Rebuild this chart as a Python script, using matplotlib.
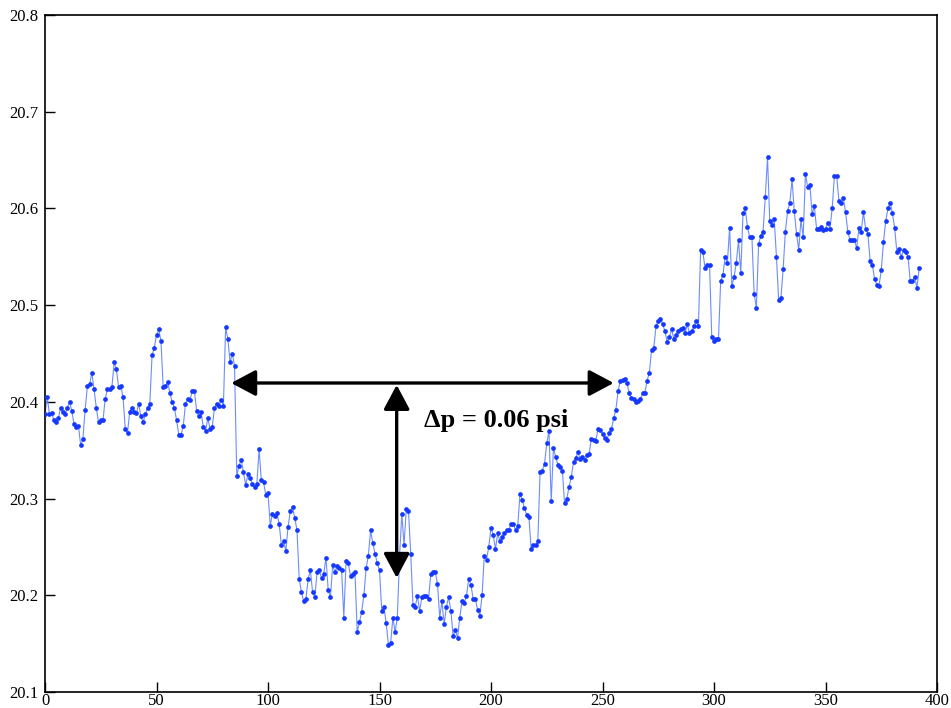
import numpy as np
import matplotlib
matplotlib.use("Agg")
import matplotlib.pyplot as plt

pressure = [
    # 0-38
    20.387, 20.405, 20.387, 20.388, 20.381, 20.379, 20.383, 20.394, 20.390, 20.387,
    20.394, 20.400, 20.391, 20.377, 20.374, 20.375, 20.355, 20.362, 20.392, 20.416,
    20.418, 20.430, 20.413, 20.394, 20.379, 20.381, 20.381, 20.403, 20.413, 20.413,
    20.415, 20.441, 20.434, 20.415, 20.416, 20.405, 20.372, 20.368, 20.390,
    # 39-76
    20.394, 20.389, 20.388, 20.398, 20.385, 20.379, 20.387, 20.394, 20.398, 20.448,
    20.456, 20.469, 20.475, 20.463, 20.415, 20.416, 20.421, 20.409, 20.400, 20.394,
    20.381, 20.366, 20.366, 20.375, 20.398, 20.403, 20.402, 20.411, 20.411, 20.391,
    20.385, 20.389, 20.374, 20.370, 20.383, 20.372, 20.374, 20.394,
    # 77-114
    20.398, 20.396, 20.402, 20.396, 20.477, 20.465, 20.441, 20.450, 20.437, 20.323,
    20.334, 20.340, 20.327, 20.314, 20.325, 20.321, 20.315, 20.312, 20.315, 20.351,
    20.319, 20.317, 20.304, 20.306, 20.272, 20.284, 20.282, 20.285, 20.274, 20.252,
    20.256, 20.246, 20.271, 20.287, 20.291, 20.280, 20.267, 20.217,
    # 115-150
    20.203, 20.194, 20.196, 20.217, 20.226, 20.203, 20.198, 20.224, 20.226, 20.218,
    20.222, 20.239, 20.205, 20.198, 20.231, 20.224, 20.230, 20.228, 20.226, 20.177,
    20.235, 20.233, 20.220, 20.222, 20.224, 20.162, 20.172, 20.183, 20.200, 20.228,
    20.241, 20.267, 20.254, 20.243, 20.233, 20.226,
    # 151-189
    20.184, 20.188, 20.171, 20.149, 20.151, 20.177, 20.162, 20.177, 20.241, 20.284,
    20.252, 20.289, 20.287, 20.243, 20.190, 20.188, 20.199, 20.184, 20.198, 20.199,
    20.199, 20.196, 20.222, 20.224, 20.224, 20.212, 20.177, 20.194, 20.170, 20.188,
    20.198, 20.184, 20.158, 20.164, 20.156, 20.177, 20.194, 20.192, 20.199,
    # 190-226
    20.217, 20.211, 20.196, 20.196, 20.185, 20.179, 20.200, 20.241, 20.237, 20.250,
    20.270, 20.262, 20.248, 20.264, 20.256, 20.260, 20.264, 20.267, 20.268, 20.274,
    20.274, 20.267, 20.272, 20.305, 20.299, 20.290, 20.283, 20.281, 20.248, 20.252,
    20.252, 20.256, 20.327, 20.329, 20.336, 20.357, 20.370,
    # 227-265
    20.297, 20.352, 20.343, 20.335, 20.333, 20.329, 20.295, 20.300, 20.312, 20.322,
    20.338, 20.342, 20.348, 20.341, 20.343, 20.340, 20.345, 20.346, 20.362, 20.361,
    20.360, 20.372, 20.371, 20.367, 20.363, 20.361, 20.368, 20.372, 20.383, 20.392,
    20.411, 20.422, 20.423, 20.424, 20.419, 20.409, 20.404, 20.403, 20.400,
    # 266-304
    20.401, 20.403, 20.409, 20.409, 20.422, 20.430, 20.454, 20.456, 20.478, 20.484,
    20.486, 20.480, 20.473, 20.462, 20.467, 20.475, 20.465, 20.469, 20.473, 20.475,
    20.476, 20.471, 20.480, 20.471, 20.473, 20.478, 20.484, 20.478, 20.557, 20.555,
    20.538, 20.541, 20.542, 20.467, 20.463, 20.465, 20.465, 20.525, 20.531,
    # 305-341
    20.550, 20.544, 20.580, 20.520, 20.529, 20.544, 20.567, 20.533, 20.595, 20.600,
    20.581, 20.570, 20.570, 20.512, 20.497, 20.563, 20.572, 20.576, 20.612, 20.653,
    20.587, 20.583, 20.589, 20.550, 20.505, 20.507, 20.537, 20.576, 20.597, 20.606,
    20.630, 20.597, 20.574, 20.557, 20.589, 20.570, 20.636,
    # 342-392
    20.622, 20.624, 20.594, 20.602, 20.579, 20.579, 20.581, 20.578, 20.579, 20.585,
    20.579, 20.600, 20.634, 20.634, 20.608, 20.606, 20.611, 20.596, 20.576, 20.567,
    20.567, 20.567, 20.559, 20.580, 20.576, 20.596, 20.579, 20.574, 20.546, 20.542,
    20.527, 20.521, 20.520, 20.536, 20.565, 20.587, 20.600, 20.606, 20.595, 20.580,
    20.555, 20.558, 20.550, 20.557, 20.555, 20.550, 20.525, 20.525, 20.529, 20.518,
    20.538,
]
sample = np.arange(len(pressure))

x_ticks = [0, 50, 100, 150, 200, 250, 300, 350, 400]
y_ticks = [20.1, 20.2, 20.3, 20.4, 20.5, 20.6, 20.7, 20.8]
y_tick_labels = ["20.1", "20.2", "20.3", "20.4", "20.5", "20.6", "20.7", "20.8"]

# annotation values
h_arrow_x = (83.5, 255.0)
h_arrow_y = 20.4195
v_arrow_x = 157.7
v_arrow_y = (20.4175, 20.218)
label_text = "\u0394p = 0.06 psi"
label_pos = (170.0, 20.381)

plt.rcParams['font.family'] = ['Liberation Serif', 'DejaVu Serif']

fig = plt.figure(figsize=(9.51, 7.08), dpi=100)
ax = fig.add_axes([45 / 951, 16 / 708, (937 - 45) / 951, (692 - 15) / 708])

ax.plot(sample, pressure, color='#6d8cff', lw=0.8, zorder=2)
ax.plot(sample, pressure, ls='none', marker='o', ms=3.4, mfc='#1438ff',
        mec='#1438ff', mew=0, zorder=3)

ax.set_xlim(0, 400)
ax.set_ylim(20.1, 20.8)
ax.set_xticks(x_ticks)
ax.set_yticks(y_ticks)
ax.set_yticklabels(y_tick_labels)
ax.tick_params(direction='in', length=7, width=1, labelsize=12,
               top=False, right=False)
ax.tick_params(axis='y', pad=5)
ax.tick_params(axis='x', pad=0.5)
for s in ax.spines.values():
    s.set_linewidth(1.2)

arrow_style = '<|-|>,head_length=0.6,head_width=0.32'
ax.annotate('', xy=(h_arrow_x[0], h_arrow_y), xytext=(h_arrow_x[1], h_arrow_y),
            arrowprops=dict(arrowstyle=arrow_style, color='black', lw=2.4,
                            mutation_scale=25, shrinkA=0, shrinkB=0), zorder=5)
ax.annotate('', xy=(v_arrow_x, v_arrow_y[0]), xytext=(v_arrow_x, v_arrow_y[1]),
            arrowprops=dict(arrowstyle=arrow_style, color='black', lw=2.4,
                            mutation_scale=25, shrinkA=0, shrinkB=0), zorder=5)
ax.text(label_pos[0], label_pos[1], label_text, fontsize=19, fontweight='bold',
        ha='left', va='center', zorder=6)

fig.savefig('out.png', dpi=100)
